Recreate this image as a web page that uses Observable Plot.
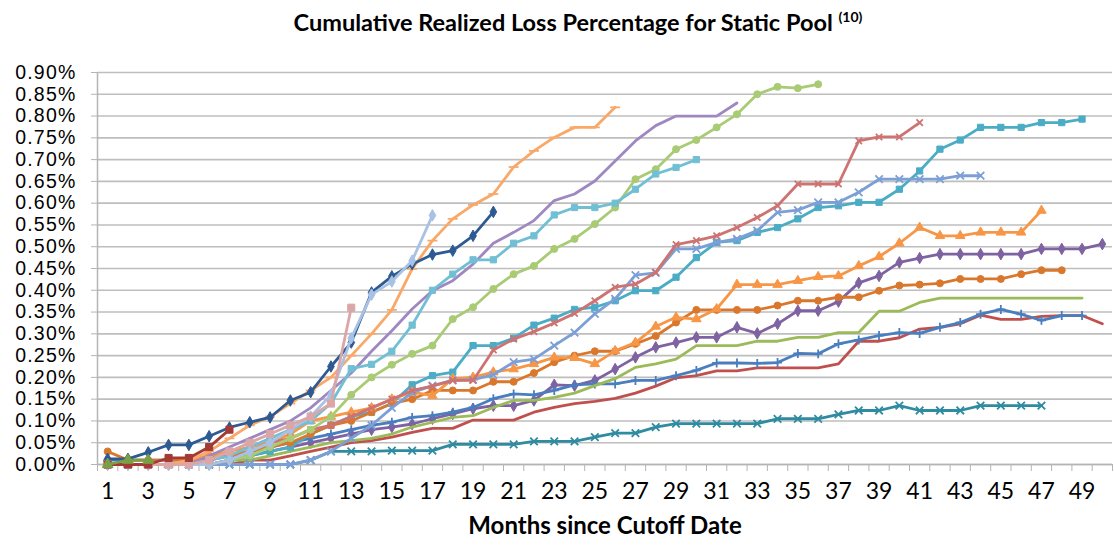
<!DOCTYPE html>
<html><head><meta charset="utf-8">
<script src="https://cdn.jsdelivr.net/npm/d3@7"></script>
<script src="https://cdn.jsdelivr.net/npm/@observablehq/plot@0.6"></script>
<style>
body{margin:0;background:#fff;width:1114px;height:547px;overflow:hidden;font-family:Lato,"Liberation Sans",sans-serif;}
#title{height:46px;box-sizing:border-box;padding-top:8px;padding-left:42px;text-align:center;font-weight:bold;font-size:23.5px;line-height:28px;color:#000;white-space:nowrap;}
#title sup{font-size:14px;vertical-align:top;position:relative;top:-5px;}
svg{display:block;overflow:visible;}
g[aria-label="y-axis tick label"] text{letter-spacing:1.2px;}
</style></head><body>
<div id="title">Cumulative Realized Loss Percentage for Static Pool <sup>(10)</sup></div>
<div id="chart"></div>
<script>
// Month categories and axis ticks
const months = d3.range(1, 51);
const xTickLabels = d3.range(1, 50, 2);
const yTicks = d3.range(0, 19).map(i => +(i * 0.05).toFixed(2));

// Series values (cumulative realized loss, in %), one array per static pool
const red = [0,0,0,0,0,0,0,0.01,0.01,0.02, 0.03,0.04,0.05,0.055,0.063,0.074,0.083,0.083,0.102,0.102, 0.102,0.12,0.131,0.14,0.145,0.152,0.164,0.18,0.199,0.204, 0.215,0.215,0.222,0.222,0.222,0.222,0.231,0.283,0.283,0.291, 0.311,0.315,0.323,0.343,0.333,0.333,0.34,0.342,0.342,0.323];
const purple = [0,0,0,0,0,0,0.01,0.02,0.03,0.04, 0.05,0.06,0.07,0.08,0.086,0.093,0.105,0.116,0.128,0.135, 0.135,0.147,0.183,0.181,0.193,0.219,0.246,0.269,0.28,0.292, 0.292,0.315,0.301,0.323,0.353,0.353,0.374,0.417,0.433,0.464, 0.474,0.483,0.483,0.483,0.483,0.483,0.495,0.495,0.495,0.506];
const blue = [0.01,0.01,0.01,0.01,0.01,0.01,0.02,0.03,0.04,0.05, 0.06,0.07,0.08,0.09,0.097,0.108,0.112,0.12,0.131,0.151, 0.162,0.16,0.17,0.183,0.185,0.185,0.193,0.193,0.204,0.216, 0.233,0.233,0.232,0.234,0.255,0.254,0.277,0.286,0.296,0.303, 0.301,0.315,0.326,0.345,0.356,0.345,0.331,0.342,0.342];
const green = [0,0,0,0,0,0,0.01,0.01,0.02,0.03, 0.04,0.05,0.055,0.06,0.07,0.086,0.097,0.108,0.112,0.131, 0.147,0.147,0.154,0.164,0.181,0.197,0.223,0.231,0.242,0.273, 0.273,0.273,0.283,0.283,0.292,0.292,0.303,0.303,0.352,0.352, 0.372,0.382,0.382,0.382,0.382,0.382,0.382,0.382,0.382];
const aqua = [0,0,0,0,0,0,0.01,0.02,0.03,0.04, 0.07,0.09,0.11,0.12,0.14,0.183,0.204,0.212,0.273,0.273, 0.29,0.32,0.336,0.356,0.361,0.376,0.399,0.399,0.43,0.475, 0.51,0.514,0.533,0.544,0.564,0.59,0.594,0.602,0.602,0.632, 0.674,0.724,0.745,0.774,0.774,0.774,0.785,0.785,0.793];
const brown = [0.03,0.01,0.01,0.01,0.01,0.02,0.02,0.03,0.04,0.05, 0.07,0.09,0.10,0.12,0.14,0.15,0.17,0.17,0.17,0.19, 0.19,0.21,0.235,0.25,0.26,0.26,0.277,0.295,0.326,0.355, 0.355,0.355,0.355,0.365,0.376,0.376,0.384,0.384,0.399,0.411, 0.413,0.416,0.426,0.426,0.426,0.437,0.446,0.446];
const orange = [0,0,0,0,0.01,0.02,0.03,0.04,0.05,0.07, 0.10,0.11,0.12,0.13,0.15,0.166,0.158,0.197,0.20,0.212, 0.219,0.231,0.246,0.245,0.231,0.261,0.28,0.317,0.338,0.334, 0.357,0.413,0.413,0.413,0.422,0.431,0.433,0.456,0.477,0.508, 0.544,0.525,0.525,0.533,0.533,0.533,0.583];
const darkTeal = [0,0,0,0,0,0,0,0,0,0, 0.01,0.03,0.03,0.03,0.032,0.032,0.032,0.046,0.046,0.046, 0.046,0.053,0.053,0.053,0.063,0.072,0.072,0.086,0.094,0.094, 0.094,0.094,0.094,0.105,0.105,0.105,0.115,0.124,0.124,0.135, 0.124,0.124,0.124,0.135,0.135,0.135,0.135];
const periwinkle = [0,0,0,0,0,0,0,0,0,0, 0.01,0.03,0.06,0.09,0.13,0.165,0.181,0.193,0.195,0.206, 0.235,0.242,0.273,0.303,0.346,0.38,0.435,0.44,0.495,0.495, 0.51,0.518,0.537,0.579,0.584,0.602,0.602,0.625,0.655,0.655, 0.655,0.655,0.663,0.663];
const rose = [0,0,0,0,0,0,0.01,0.03,0.05,0.06, 0.08,0.09,0.11,0.13,0.15,0.17,0.18,0.193,0.193,0.263, 0.288,0.305,0.325,0.347,0.376,0.407,0.414,0.441,0.505,0.514, 0.525,0.544,0.567,0.594,0.644,0.644,0.644,0.743,0.752,0.752, 0.785];
const lightGreen = [0,0,0,0,0,0,0.01,0.02,0.04,0.06, 0.08,0.11,0.16,0.20,0.229,0.254,0.273,0.334,0.361,0.403, 0.437,0.456,0.495,0.518,0.552,0.59,0.655,0.678,0.724,0.745, 0.774,0.804,0.85,0.867,0.864,0.873];
const lightPurple = [0,0,0,0,0,0.02,0.04,0.06,0.08,0.10, 0.13,0.17,0.21,0.26,0.307,0.357,0.399,0.422,0.46,0.508, 0.533,0.56,0.606,0.621,0.651,0.697,0.743,0.778,0.80,0.80, 0.80,0.83];
const lightAqua = [0,0,0,0,0,0.01,0.02,0.04,0.06,0.08, 0.10,0.14,0.22,0.23,0.26,0.32,0.40,0.437,0.47,0.47, 0.508,0.525,0.573,0.59,0.59,0.60,0.632,0.667,0.682,0.70];
const lightOrange = [0,0,0,0,0.01,0.03,0.06,0.09,0.11,0.14, 0.17,0.20,0.25,0.30,0.355,0.449,0.514,0.564,0.596,0.621, 0.683,0.72,0.751,0.774,0.774,0.82];
const darkBlue = [0.013,0.013,0.028,0.045,0.045,0.065,0.085,0.097,0.108,0.147, 0.166,0.225,0.28,0.395,0.432,0.46,0.482,0.491,0.525,0.58];
const lightBlue = [0,0,0,0,0,0,0.01,0.03,0.05,0.08, 0.11,0.16,0.29,0.39,0.42,0.468,0.572];
const pink = [0,0,0,0,0,0.01,0.03,0.05,0.07,0.09,0.11,0.14,0.36];
const darkRed = [0,0,0,0.015,0.015,0.04,0.08];
const darkGreen = [0,0.01,0.01];

const dash = {draw(ctx, size) { const w = Math.sqrt(size) * 0.8; ctx.moveTo(-w, 0); ctx.lineTo(w, 0); }};

const series = [
  {values: red, color: "#C0504D", symbol: null},
  {values: purple, color: "#7F62A1", symbol: "diamond", r: 3.5},
  {values: blue, color: "#4A7EBF", symbol: "plus", r: 3, hollow: true},
  {values: green, color: "#9BBB59", symbol: null},
  {values: aqua, color: "#4BACC6", symbol: "square", r: 3.5},
  {values: brown, color: "#D9782D", symbol: "circle", r: 3.5},
  {values: orange, color: "#F79646", symbol: "triangle", r: 3.5},
  {values: darkTeal, color: "#2F8BA0", symbol: "times", r: 3.5, hollow: true},
  {values: periwinkle, color: "#7C9FD6", symbol: "times", r: 3.5, hollow: true},
  {values: rose, color: "#CD7371", symbol: "times", r: 3, hollow: true},
  {values: lightGreen, color: "#A9CB74", symbol: "circle", r: 3.5},
  {values: lightPurple, color: "#9F87C2", symbol: null},
  {values: lightAqua, color: "#71BFD4", symbol: "square", r: 3.5},
  {values: lightOrange, color: "#F9A868", symbol: dash, r: 3.5, hollow: true},
  {values: darkBlue, color: "#2E5A93", symbol: "diamond", r: 3.5},
  {values: lightBlue, color: "#A8C1E4", symbol: "diamond", r: 3.5},
  {values: pink, color: "#DBA6A5", symbol: "square", r: 4},
  {values: darkRed, color: "#A33A36", symbol: "square", r: 4},
  {values: darkGreen, color: "#79A143", symbol: "triangle", r: 4}
];

const gray = "#B4B4B4";
const marks = [
  Plot.ruleY(yTicks, {stroke: "#BEBEBE", strokeWidth: 1.6}),
  Plot.ruleX([0.5], {y1: 0, y2: 0.9, stroke: gray, strokeWidth: 1.5}),
  Plot.ruleY([0], {stroke: gray, strokeWidth: 1.6}),
  Plot.axisY(yTicks, {tickSize: 6, tickPadding: 15, tickFormat: d => d.toFixed(2) + "%", fontSize: 19.5, fontFamily: "'Liberation Sans', Arial, sans-serif", stroke: gray, fill: "#000", label: null}),
  Plot.axisX(d3.range(0.5, 51, 1), {tickSize: 7, tickFormat: () => "", stroke: gray, label: null}),
  Plot.axisX(xTickLabels, {tickSize: 0, tickPadding: 18, fontSize: 23, fill: "#000", tickFormat: d => String(d), label: null}),
  Plot.text(["Months since Cutoff Date"], {frameAnchor: "bottom", dy: 69, fontSize: 24, fontWeight: "bold", fill: "#000"})
];

for (const s of series) {
  const rows = s.values.map((v, i) => ({m: months[i], v}));
  marks.push(Plot.line(rows, {x: "m", y: "v", stroke: s.color, strokeWidth: 2.8, strokeLinejoin: "round"}));
  if (s.symbol) {
    marks.push(Plot.dot(rows, s.hollow
      ? {x: "m", y: "v", symbol: s.symbol, r: s.r, stroke: s.color, strokeWidth: 1.8, fill: "none"}
      : {x: "m", y: "v", symbol: s.symbol, r: s.r, fill: s.color, stroke: s.color, strokeWidth: 1}));
  }
}

const chart = Plot.plot({
  width: 1114,
  height: 501,
  marginLeft: 97,
  marginRight: 2,
  marginTop: 26,
  marginBottom: 83,
  style: {fontFamily: "Lato, 'Liberation Sans', sans-serif", background: "#fff", color: "#000"},
  x: {type: "linear", domain: [0.5, 50.5]},
  y: {type: "linear", domain: [0, 0.9]},
  marks
});
document.getElementById("chart").appendChild(chart);
</script>
</body></html>
